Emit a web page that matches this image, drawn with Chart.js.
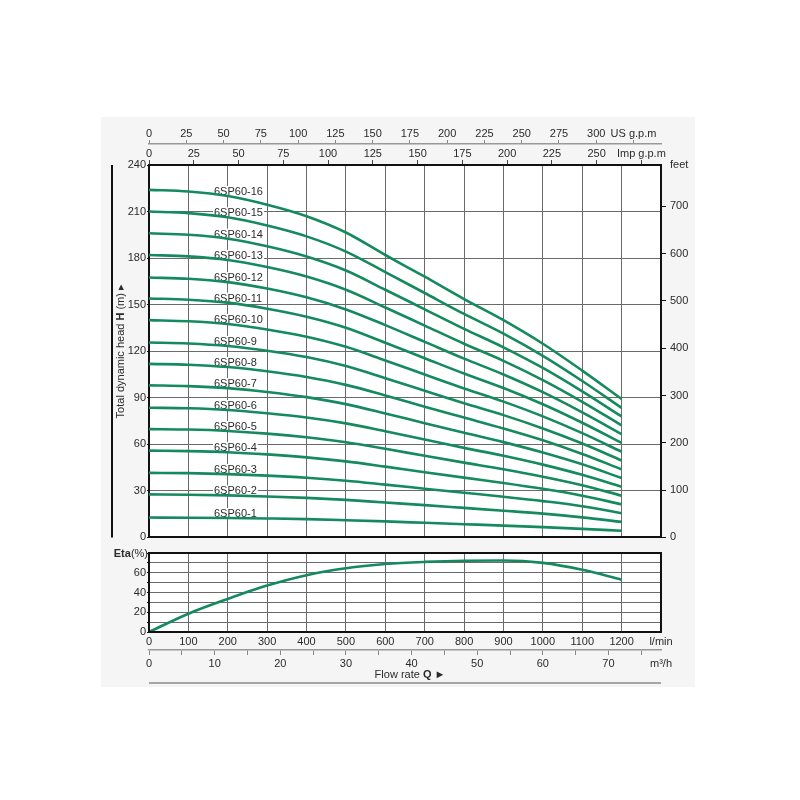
<!DOCTYPE html>
<html>
<head>
<meta charset="utf-8">
<script src="https://cdn.jsdelivr.net/npm/chart.js@4.4.1/dist/chart.umd.min.js"></script>
<style>
  html, body { margin: 0; padding: 0; background: #fff; }
  body { width: 800px; height: 800px; position: relative; overflow: hidden; }
  #panel { position: absolute; left: 101px; top: 117px; width: 594px; height: 570px; background: #f5f5f5; }
  #headBox { position: absolute; left: 0; top: 0; width: 800px; height: 548px; }
  #etaBox { position: absolute; left: 0; top: 540px; width: 800px; height: 160px; }
</style>
</head>
<body>
<div id="panel"></div>
<div id="headBox"><canvas id="headChart"></canvas></div>
<div id="etaBox"><canvas id="etaChart"></canvas></div>
<script>
// flow points (l/min) used by every curve
const flowLmin = [0, 100, 200, 300, 400, 500, 600, 700, 800, 900, 1000, 1100, 1200];

const models = ['6SP60-1', '6SP60-2', '6SP60-3', '6SP60-4', '6SP60-5', '6SP60-6', '6SP60-7', '6SP60-8',
        '6SP60-9', '6SP60-10', '6SP60-11', '6SP60-12', '6SP60-13', '6SP60-14', '6SP60-15', '6SP60-16'];

// head (m)
const head1 = [12.8, 12.7, 12.5, 12.2, 11.8, 11.1, 10.3, 9.4, 8.5, 7.6, 6.6, 5.5, 4.3];
const head2 = [27.7, 27.5, 27.1, 26.4, 25.5, 24.2, 22.5, 20.8, 19.0, 17.2, 15.3, 12.9, 10.0];
const head3 = [41.6, 41.4, 40.8, 39.8, 38.4, 36.5, 34.0, 31.4, 28.8, 26.2, 23.4, 20.1, 15.6];
const head4 = [55.9, 55.6, 54.9, 53.5, 51.6, 49.0, 45.6, 42.0, 38.5, 35.1, 31.3, 26.9, 21.3];
const head5 = [69.8, 69.5, 68.6, 66.9, 64.5, 61.3, 57.1, 52.6, 48.2, 43.9, 39.1, 33.6, 26.9];
const head6 = [83.6, 83.2, 82.1, 80.0, 77.3, 73.5, 68.4, 63.1, 57.7, 52.6, 46.9, 40.3, 32.6];
const head7 = [98.0, 97.5, 96.2, 93.7, 90.4, 85.9, 79.9, 73.6, 67.4, 61.4, 54.7, 47.1, 38.3];
const head8 = [111.8, 111.3, 109.8, 107.1, 103.4, 98.3, 91.5, 84.2, 77.2, 70.2, 62.6, 53.8, 43.9];
const head9 = [125.6, 125.0, 123.4, 120.3, 116.2, 110.4, 102.6, 94.5, 86.4, 78.8, 70.2, 60.5, 49.6];
const head10 = [140.0, 139.3, 137.5, 134.0, 129.3, 122.8, 114.0, 105.0, 96.0, 87.5, 78.0, 67.2, 55.2];
const head11 = [154.0, 153.2, 151.3, 147.4, 142.2, 135.1, 125.4, 115.5, 105.6, 96.3, 85.8, 73.9, 60.9];
const head12 = [167.5, 166.7, 164.5, 160.4, 154.7, 146.9, 136.8, 126.0, 115.2, 105.0, 93.6, 80.6, 66.6];
const head13 = [182.0, 181.1, 178.8, 174.2, 168.1, 159.6, 148.2, 136.5, 124.8, 113.8, 101.4, 87.4, 72.2];
const head14 = [196.0, 195.0, 192.5, 187.6, 181.0, 172.0, 159.6, 147.0, 134.4, 122.5, 109.2, 94.1, 77.9];
const head15 = [210.0, 209.0, 206.3, 201.0, 194.0, 184.2, 171.0, 157.5, 144.0, 131.3, 117.0, 100.8, 83.5];
const head16 = [224.0, 222.9, 220.0, 214.4, 207.0, 196.5, 182.0, 168.0, 153.6, 140.0, 124.8, 107.5, 89.2];
const heads = [head1, head2, head3, head4, head5, head6, head7, head8,
        head9, head10, head11, head12, head13, head14, head15, head16];

// efficiency (%)
const etaPct = [0, 18.5, 33.5, 47, 57.5, 64.5, 68.8, 71, 72.2, 72.4, 70, 63, 53];

// tick labels
const headTicks = [0, 30, 60, 90, 120, 150, 180, 210, 240];
const feetTicks = [0, 100, 200, 300, 400, 500, 600, 700];
const usGpmTicks = [0, 25, 50, 75, 100, 125, 150, 175, 200, 225, 250, 275, 300];
const impGpmTicks = [0, 25, 50, 75, 100, 125, 150, 175, 200, 225, 250];
const lminTicks = [0, 100, 200, 300, 400, 500, 600, 700, 800, 900, 1000, 1100, 1200];
const m3hTicks = [0, 5, 10, 15, 20, 25, 30, 35, 40, 45, 50, 55, 60, 65, 70, 75];
const etaTicks = [0, 10, 20, 30, 40, 50, 60, 70, 80];

const FONT = "'Liberation Sans', Arial, sans-serif";
const INK = '#2b2b2b';
const GRID = '#6a6a6a';
const FRAME = '#111';
const GREEN = '#148a5e';
const flowMax = 1300;

// ticks from arrays, optional unit label at the end
function fixTicks(values, unitAt) {
        return function (scale) {
                const list = values.map(v => ({ value: v }));
                if (unitAt !== undefined) {
                        list.push({ value: unitAt === 'max' ? scale.max : unitAt, unit: true });
                }
                scale.ticks = list;
        };
}
function tickText(unit, every) {
        return function (value, index, ticks) {
                if (ticks[index] && ticks[index].unit) return unit;
                if (every && value % every !== 0) return '';
                return value;
        };
}
const noUnitTick = color => ctx => (ctx.tick && ctx.tick.unit) ? 'rgba(0,0,0,0)' : color;
const tickFont = { family: FONT, size: 11 };

function drawRich(ctx, parts, x, y, align) {
        let w = 0;
        parts.forEach(p => {
                ctx.font = (p[1] ? 'bold ' : '') + '11px ' + FONT;
                w += ctx.measureText(p[0]).width;
        });
        let cx = align === 'right' ? x - w : (align === 'center' ? x - w / 2 : x);
        ctx.textAlign = 'left';
        ctx.textBaseline = 'middle';
        ctx.fillStyle = INK;
        parts.forEach(p => {
                ctx.font = (p[1] ? 'bold ' : '') + '11px ' + FONT;
                ctx.fillText(p[0], cx, y);
                cx += ctx.measureText(p[0]).width;
        });
}

// head chart
const labelAtLmin = 165;
const headPlugin = {
        id: 'headExtras',
        beforeDraw(chart) {
                const ca = chart.chartArea;
                chart.ctx.save();
                chart.ctx.fillStyle = '#fff';
                chart.ctx.fillRect(ca.left, ca.top, ca.right - ca.left, ca.bottom - ca.top);
                chart.ctx.restore();
        },
        beforeDatasetsDraw(chart) {
                const ctx = chart.ctx;
                const lx = chart.scales.x.getPixelForValue(labelAtLmin);
                ctx.save();
                ctx.font = '11px ' + FONT;
                ctx.textAlign = 'left';
                ctx.textBaseline = 'alphabetic';
                chart.data.datasets.forEach((ds, i) => {
                        const pt = chart.getDatasetMeta(i).data[2];
                        const by = pt.y - 1;
                        const w = ctx.measureText(ds.label).width;
                        ctx.fillStyle = '#fff';
                        ctx.fillRect(lx - 1, by - 9, w + 2, 10);
                        ctx.fillStyle = INK;
                        ctx.fillText(ds.label, lx, by);
                });
                ctx.restore();
        },
        afterDraw(chart) {
                const ctx = chart.ctx;
                const ca = chart.chartArea;
                ctx.save();
                ctx.strokeStyle = FRAME;
                ctx.lineWidth = 2;
                ctx.beginPath();
                ctx.moveTo(112, ca.top);
                ctx.lineTo(112, ca.bottom);
                ctx.stroke();
                ctx.translate(121, (ca.top + ca.bottom) / 2);
                ctx.rotate(-Math.PI / 2);
                drawRich(ctx, [['Total dynamic head ', 0], ['H', 1], [' (m) \u25B8', 0]], 0, 0, 'center');
                ctx.restore();
        }
};

const headChart = new Chart(document.getElementById('headChart'), {
        type: 'line',
        data: {
                datasets: heads.map((h, i) => ({
                        label: models[i],
                        data: flowLmin.map((q, k) => ({ x: q, y: h[k] })),
                        borderColor: GREEN,
                        borderWidth: 2.6,
                        pointRadius: 0,
                        cubicInterpolationMode: 'monotone'
                }))
        },
        options: {
                responsive: true,
                maintainAspectRatio: false,
                animation: false,
                layout: { padding: 0 },
                plugins: { legend: { display: false }, tooltip: { enabled: false } },
                scales: {
                        x: {
                                type: 'linear', position: 'bottom', min: 0, max: flowMax,
                                afterBuildTicks: fixTicks(lminTicks, flowMax),
                                ticks: { display: false },
                                grid: { color: GRID, lineWidth: 1, drawTicks: false },
                                border: { color: FRAME, width: 2 },
                                afterFit: s => { s.height = 8; }
                        },
                        y: {
                                type: 'linear', position: 'left', min: 0, max: 240,
                                afterBuildTicks: fixTicks(headTicks),
                                ticks: { color: INK, font: tickFont, padding: 1 },
                                grid: { color: GRID, lineWidth: 1, tickLength: 2, tickColor: FRAME },
                                border: { color: FRAME, width: 2 },
                                afterFit: s => { s.width = 149; }
                        },
                        feet: {
                                type: 'linear', position: 'right', min: 0, max: 240 * 3.2808,
                                afterBuildTicks: fixTicks(feetTicks, 'max'),
                                ticks: { color: INK, font: tickFont, padding: 4, autoSkip: false, callback: tickText('feet') },
                                grid: { drawOnChartArea: false, tickLength: 5, tickColor: noUnitTick(FRAME) },
                                border: { color: FRAME, width: 2 },
                                afterFit: s => { s.width = 139; }
                        },
                        imp: {
                                type: 'linear', position: 'top', weight: 1, min: 0, max: flowMax / 4.5461,
                                afterBuildTicks: fixTicks(impGpmTicks, 275),
                                ticks: { color: INK, font: tickFont, padding: -1, autoSkip: false, maxRotation: 0, callback: tickText('Imp g.p.m') },
                                grid: { drawOnChartArea: false, tickLength: 5, tickColor: '#444' },
                                border: { color: FRAME, width: 2 },
                                afterFit: s => { s.height = 21; }
                        },
                        us: {
                                type: 'linear', position: 'top', weight: 2, min: 0, max: flowMax / 3.7854,
                                afterBuildTicks: fixTicks(usGpmTicks, 325),
                                ticks: { color: INK, font: tickFont, padding: -1, autoSkip: false, maxRotation: 0, callback: tickText('US g.p.m') },
                                grid: { drawOnChartArea: false, tickLength: 4, tickColor: '#888' },
                                border: { color: '#999', width: 1.5 },
                                afterFit: s => { s.height = 144; }
                        }
                }
        },
        plugins: [headPlugin]
});

// efficiency chart
const etaPlugin = {
        id: 'etaExtras',
        beforeDraw(chart) {
                const ca = chart.chartArea;
                chart.ctx.save();
                chart.ctx.fillStyle = '#fff';
                chart.ctx.fillRect(ca.left, ca.top, ca.right - ca.left, ca.bottom - ca.top);
                chart.ctx.restore();
        },
        afterDraw(chart) {
                const ctx = chart.ctx;
                const ca = chart.chartArea;
                const m3 = chart.scales.m3h;
                ctx.save();
                ctx.strokeStyle = FRAME;
                ctx.lineWidth = 2;
                ctx.strokeRect(ca.left, ca.top, ca.right - ca.left, ca.bottom - ca.top);
                drawRich(ctx, [['Eta', 1], ['(%)', 0]], ca.left - 1, chart.scales.y.getPixelForValue(80) + 1, 'right');
                drawRich(ctx, [['Flow rate ', 0], ['Q', 1], [' \u25BA', 0]], (ca.left + ca.right) / 2 + 5, m3.top + 25, 'center');
                ctx.strokeStyle = '#8a8a8a';
                ctx.lineWidth = 1.5;
                ctx.beginPath();
                ctx.moveTo(ca.left, m3.top + 33);
                ctx.lineTo(ca.right, m3.top + 33);
                ctx.stroke();
                ctx.restore();
        }
};

const etaChart = new Chart(document.getElementById('etaChart'), {
        type: 'line',
        data: {
                datasets: [{
                        label: 'Eta',
                        data: flowLmin.map((q, k) => ({ x: q, y: etaPct[k] })),
                        borderColor: GREEN,
                        borderWidth: 2.6,
                        pointRadius: 0,
                        cubicInterpolationMode: 'monotone'
                }]
        },
        options: {
                responsive: true,
                maintainAspectRatio: false,
                animation: false,
                layout: { padding: { top: 13, right: 139, left: 0, bottom: 0 } },
                plugins: { legend: { display: false }, tooltip: { enabled: false } },
                scales: {
                        x: {
                                type: 'linear', position: 'bottom', weight: 1, min: 0, max: flowMax,
                                afterBuildTicks: fixTicks(lminTicks, flowMax),
                                ticks: { color: INK, font: tickFont, padding: 3, autoSkip: false, maxRotation: 0, callback: tickText('l/min') },
                                grid: { color: GRID, lineWidth: 1, drawTicks: false },
                                border: { color: FRAME, width: 2 },
                                afterFit: s => { s.height = 18; }
                        },
                        m3h: {
                                type: 'linear', position: 'bottom', weight: 2, min: 0, max: flowMax * 0.06,
                                afterBuildTicks: fixTicks(m3hTicks, 'max'),
                                ticks: { color: INK, font: tickFont, padding: 2, autoSkip: false, maxRotation: 0, callback: tickText('m\u00B3/h', 10) },
                                grid: { drawOnChartArea: false, tickLength: 5, tickColor: noUnitTick('#888') },
                                border: { color: '#999', width: 1.5 },
                                afterFit: s => { s.height = 50; }
                        },
                        y: {
                                type: 'linear', position: 'left', min: 0, max: 80,
                                afterBuildTicks: fixTicks(etaTicks),
                                ticks: { color: INK, font: tickFont, padding: 1, autoSkip: false,
                                        callback: v => (v % 20 === 0 && v < 80) ? v : '' },
                                grid: { color: GRID, lineWidth: 1, tickLength: 2, tickColor: FRAME },
                                border: { color: FRAME, width: 2 },
                                afterFit: s => { s.width = 149; }
                        }
                }
        },
        plugins: [etaPlugin]
});
</script>
</body>
</html>
